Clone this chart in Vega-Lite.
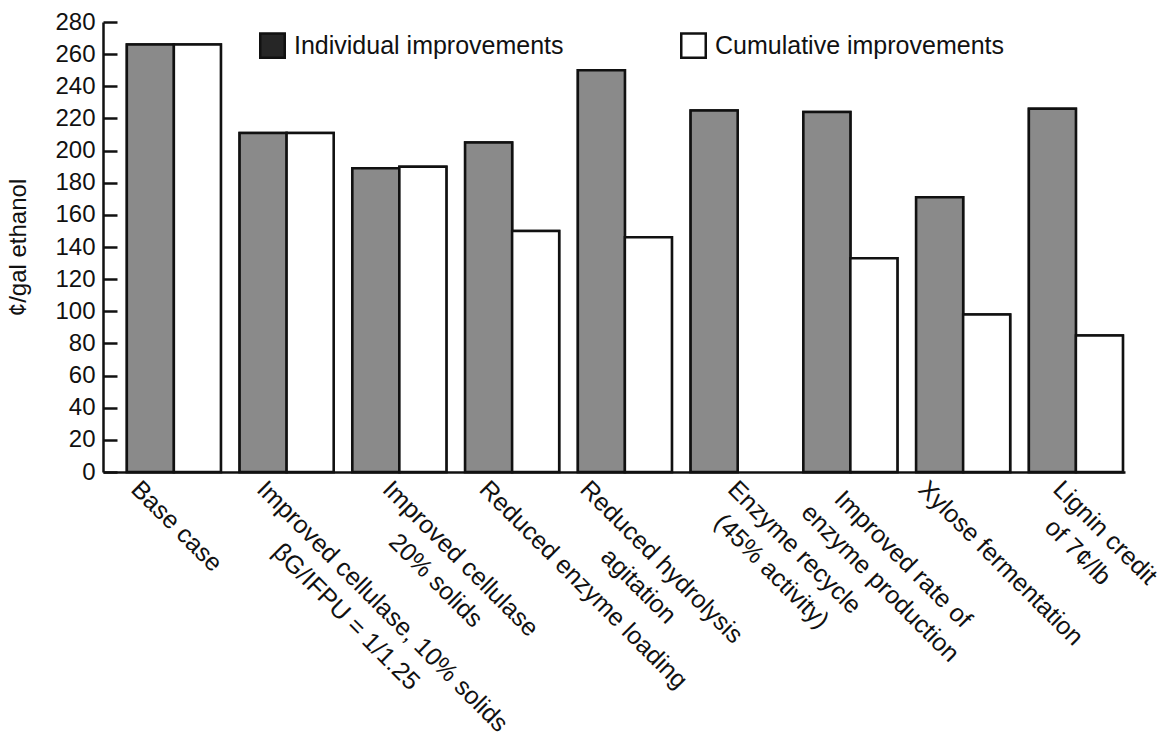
{
  "$schema": "https://vega.github.io/schema/vega-lite/v6.json",
  "autosize": "none",
  "width": 1022,
  "height": 450,
  "padding": {"left": 103, "top": 22, "right": 38, "bottom": 266},
  "background": "white",
  "config": {
    "view": {"stroke": null},
    "font": "Liberation Sans",
    "axis": {"labelColor": "#111", "titleColor": "#111", "domainColor": "#111", "tickColor": "#111", "grid": false}
  },
  "data": {
    "values": [
      {"category": "Base case", "series": "Individual improvements", "value": 266},
      {"category": "Base case", "series": "Cumulative improvements", "value": 266},
      {"category": "Improved cellulase, 10% solids βG/IFPU = 1/1.25", "series": "Individual improvements", "value": 211},
      {"category": "Improved cellulase, 10% solids βG/IFPU = 1/1.25", "series": "Cumulative improvements", "value": 211},
      {"category": "Improved cellulase 20% solids", "series": "Individual improvements", "value": 189},
      {"category": "Improved cellulase 20% solids", "series": "Cumulative improvements", "value": 190},
      {"category": "Reduced enzyme loading", "series": "Individual improvements", "value": 205},
      {"category": "Reduced enzyme loading", "series": "Cumulative improvements", "value": 150},
      {"category": "Reduced hydrolysis agitation", "series": "Individual improvements", "value": 250},
      {"category": "Reduced hydrolysis agitation", "series": "Cumulative improvements", "value": 146},
      {"category": "Enzyme recycle (45% activity)", "series": "Individual improvements", "value": 225},
      {"category": "Improved rate of enzyme production", "series": "Individual improvements", "value": 224},
      {"category": "Improved rate of enzyme production", "series": "Cumulative improvements", "value": 133},
      {"category": "Xylose fermentation", "series": "Individual improvements", "value": 171},
      {"category": "Xylose fermentation", "series": "Cumulative improvements", "value": 98},
      {"category": "Lignin credit of 7¢/lb", "series": "Individual improvements", "value": 226},
      {"category": "Lignin credit of 7¢/lb", "series": "Cumulative improvements", "value": 85}
    ]
  },
  "encoding": {
    "x": {
      "field": "category",
      "type": "nominal",
      "sort": null,
      "scale": {"paddingInner": 0.166, "paddingOuter": 0.115, "align": 0.92},
      "axis": {
        "title": null,
        "ticks": false,
        "domainWidth": 2.5,
        "labelAngle": 45,
        "labelAlign": "left",
        "labelBaseline": "top",
        "labelFontSize": 25,
        "labelOffset": {
          "condition": [
            {"test": "datum.value == 'Base case'", "value": -30},
            {"test": "datum.value == 'Improved cellulase, 10% solids βG/IFPU = 1/1.25'", "value": -17},
            {"test": "datum.value == 'Improved cellulase 20% solids'", "value": -4},
            {"test": "datum.value == 'Reduced enzyme loading'", "value": -20},
            {"test": "datum.value == 'Enzyme recycle (45% activity)'", "value": 3},
            {"test": "datum.value == 'Improved rate of enzyme production'", "value": -13},
            {"test": "datum.value == 'Lignin credit of 7¢/lb'", "value": -10}
          ],
          "value": -32
        },
        "labelPadding": 4,
        "labelLimit": 600,
        "labelOverlap": false,
        "labelBound": false,
        "labelFlush": false,
        "labelLineHeight": 33,
        "labelExpr": "datum.value == 'Improved cellulase, 10% solids βG/IFPU = 1/1.25' ? ['Improved cellulase, 10% solids', '\u200b\u00a0\u00a0\u00a0\u00a0\u00a0\u00a0\u00a0\u00a0βG/IFPU = 1/1.25'] : datum.value == 'Improved cellulase 20% solids' ? ['Improved cellulase', '\u200b\u00a0\u00a0\u00a0\u00a0\u00a0\u00a020% solids'] : datum.value == 'Reduced hydrolysis agitation' ? ['Reduced hydrolysis', '\u200b\u00a0\u00a0\u00a0\u00a0\u00a0\u00a0\u00a0\u00a0\u00a0agitation'] : datum.value == 'Enzyme recycle (45% activity)' ? ['Enzyme recycle', '\u200b\u00a0\u00a0(45% activity)'] : datum.value == 'Improved rate of enzyme production' ? ['\u200b\u00a0\u00a0Improved rate of', 'enzyme production'] : datum.value == 'Lignin credit of 7¢/lb' ? ['Lignin credit', '\u200b\u00a0\u00a0\u00a0of 7¢/lb'] : datum.label"
      }
    },
    "xOffset": {"field": "series", "type": "nominal", "sort": ["Individual improvements", "Cumulative improvements"], "scale": {"paddingInner": 0, "paddingOuter": 0}},
    "y": {
      "field": "value",
      "type": "quantitative",
      "scale": {"domain": [0, 280], "nice": false},
      "axis": {
        "title": "¢/gal ethanol",
        "titleFontSize": 24,
        "titleFontWeight": "normal",
        "titlePadding": 24,
        "values": [0, 20, 40, 60, 80, 100, 120, 140, 160, 180, 200, 220, 240, 260, 280],
        "labelFontSize": 24,
        "labelPadding": 22,
        "tickSize": -14,
        "tickWidth": 2.5,
        "domainWidth": 2.5
      }
    }
  },
  "layer": [
    {
      "mark": {"type": "bar", "stroke": "#111", "strokeWidth": 2.5},
      "encoding": {
        "fill": {
          "field": "series",
          "type": "nominal",
          "sort": ["Individual improvements", "Cumulative improvements"],
          "scale": {"domain": ["Individual improvements", "Cumulative improvements"], "range": ["#262626", "#ffffff"]},
          "legend": {
            "title": null,
            "orient": "none",
            "legendX": 156,
            "legendY": 10,
            "direction": "horizontal",
            "columns": 2,
            "columnPadding": 112,
            "symbolType": "square",
            "symbolSize": 600,
            "symbolStrokeColor": "#111",
            "symbolStrokeWidth": 2.5,
            "labelFontSize": 25,
            "labelColor": "#111",
            "labelOffset": 8,
            "labelLimit": 400
          }
        }
      }
    },
    {
      "mark": {"type": "bar", "stroke": "#111", "strokeWidth": 2.5},
      "encoding": {
        "color": {
          "field": "series",
          "type": "nominal",
          "sort": ["Individual improvements", "Cumulative improvements"],
          "scale": {"domain": ["Individual improvements", "Cumulative improvements"], "range": ["#8a8a8a", "#ffffff"]},
          "legend": null
        }
      }
    }
  ]
}
